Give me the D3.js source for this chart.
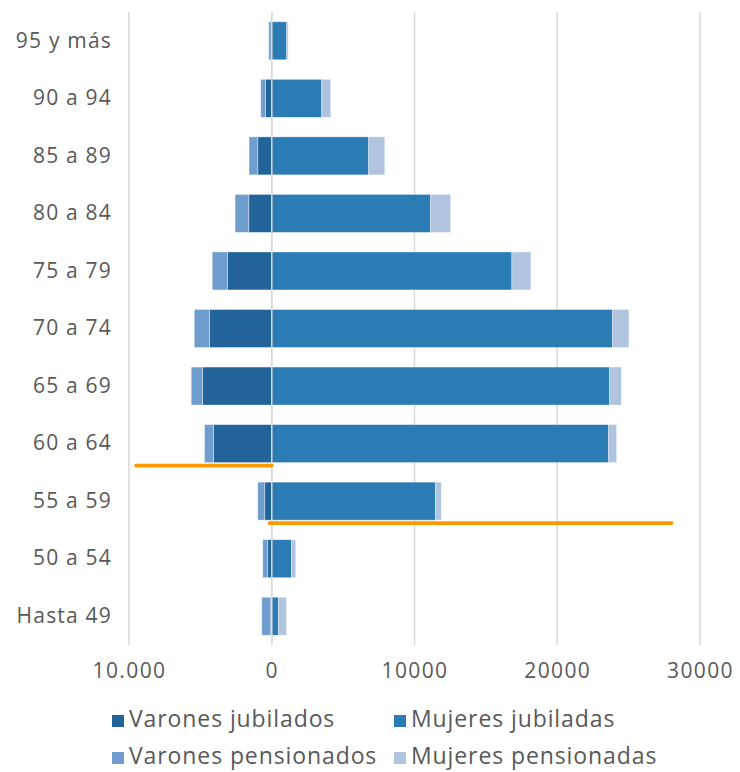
<!DOCTYPE html>
<html>
<head>
<meta charset="utf-8">
<script src="https://cdn.jsdelivr.net/npm/d3@7"></script>
<style>
  body { margin: 0; background: #fff; }
  text { font-family: "Open Sans", sans-serif; fill: #595959; }
</style>
</head>
<body>
<script>
//age groups, top to bottom
var ageGroups = ["95 y más", "90 a 94", "85 a 89", "80 a 84", "75 a 79", "70 a 74",
                 "65 a 69", "60 a 64", "55 a 59", "50 a 54", "Hasta 49"];

//values (men drawn to the left)
var varonesJubilados   = [50, 440, 980, 1610, 3100, 4360, 4850, 4080, 490, 280, 100];
var varonesPensionados = [160, 330, 610, 960, 1070, 1070, 790, 630, 490, 350, 600];
var mujeresJubiladas   = [1050, 3500, 6790, 11130, 16820, 23880, 23670, 23600, 11460, 1380, 470];
var mujeresPensionadas = [100, 630, 1130, 1400, 1330, 1140, 820, 560, 420, 300, 560];

var xTicks = [-10000, 0, 10000, 20000, 30000];
var xTickLabels = ["10.000", "0", "10000", "20000", "30000"];

var seriesNames = ["Varones jubilados", "Mujeres jubiladas", "Varones pensionados", "Mujeres pensionadas"];
var seriesColors = ["#22649a", "#2b7bb5", "#6f9dcd", "#b0c4e0"];

//orange marker lines under the 60 a 64 and 55 a 59 bars
var markerGroups = ["60 a 64", "55 a 59"];
var markerFrom = [-9500, -150];
var markerTo = [0, 28000];

window.onload = drawChart();

function drawChart() {
    var width = 740,
        height = 772;

    var svg = d3.select("body")
        .append("svg")
        .attr("width", width)
        .attr("height", height);

    var x = d3.scaleLinear()
        .domain([-10000, 30000])
        .range([129, 700]);

    var y = d3.scaleBand()
        .domain(ageGroups)
        .range([12, 645])
        .paddingInner(0.34)
        .paddingOuter(0.17);

    //gridlines
    svg.selectAll(".grid")
        .data(xTicks)
        .enter()
        .append("line")
        .attr("class", "grid")
        .attr("x1", function(d) { return x(d); })
        .attr("x2", function(d) { return x(d); })
        .attr("y1", 12)
        .attr("y2", 645)
        .attr("stroke", "#d9d9d9")
        .attr("stroke-width", 1.5);

    //build segments: [start, end] for every bar piece
    var segs = [];
    ageGroups.forEach(function(g, i) {
        segs.push({g: g, s: 0, x0: -varonesJubilados[i], x1: 0});
        segs.push({g: g, s: 2, x0: -varonesJubilados[i] - varonesPensionados[i], x1: -varonesJubilados[i]});
        segs.push({g: g, s: 1, x0: 0, x1: mujeresJubiladas[i]});
        segs.push({g: g, s: 3, x0: mujeresJubiladas[i], x1: mujeresJubiladas[i] + mujeresPensionadas[i]});
    });

    svg.selectAll(".bar")
        .data(segs)
        .enter()
        .append("rect")
        .attr("class", "bar")
        .attr("x", function(d) { return x(d.x0); })
        .attr("width", function(d) { return x(d.x1) - x(d.x0); })
        .attr("y", function(d) { return y(d.g); })
        .attr("height", y.bandwidth())
        .attr("fill", function(d) { return seriesColors[d.s]; })
        .attr("stroke", "rgba(255,255,255,0.5)")
        .attr("stroke-width", 0.7);

    //zero line on top of the bars
    svg.append("line")
        .attr("x1", x(0)).attr("x2", x(0))
        .attr("y1", 12).attr("y2", 645)
        .attr("stroke", "#d9d9d9")
        .attr("stroke-width", 1.5);

    //orange marker lines
    svg.selectAll(".marker")
        .data(markerGroups)
        .enter()
        .append("line")
        .attr("class", "marker")
        .attr("x1", function(d, i) { return x(markerFrom[i]); })
        .attr("x2", function(d, i) { return x(markerTo[i]); })
        .attr("y1", function(d) { return y(d) + y.bandwidth() + 3; })
        .attr("y2", function(d) { return y(d) + y.bandwidth() + 3; })
        .attr("stroke", "#ff9900")
        .attr("stroke-width", 3.8)
        .attr("stroke-linecap", "round");

    //category labels
    var yAxis = svg.append("g")
        .attr("transform", "translate(112,0)")
        .call(d3.axisLeft(y).tickSize(0).tickPadding(0));
    yAxis.select(".domain").remove();
    yAxis.selectAll("text")
        .style("font-family", "'Open Sans', sans-serif")
        .style("font-size", "21px")
        .style("letter-spacing", "1.2px")
        .attr("fill", "#595959");

    //value axis labels
    var xAxis = svg.append("g")
        .attr("transform", "translate(0,645)")
        .call(d3.axisBottom(x)
            .tickValues(xTicks)
            .tickSize(0)
            .tickPadding(18)
            .tickFormat(function(d, i) { return xTickLabels[i]; }));
    xAxis.select(".domain").remove();
    xAxis.selectAll("text")
        .style("font-family", "'Open Sans', sans-serif")
        .style("font-size", "21px")
        .style("letter-spacing", "1.4px")
        .attr("fill", "#595959");

    //legend
    var legendX = [112, 394],
        legendY = [720, 757];

    var legend = svg.selectAll(".legend")
        .data(seriesNames)
        .enter()
        .append("g")
        .attr("class", "legend")
        .attr("transform", function(d, i) {
            return "translate(" + legendX[i % 2] + "," + legendY[Math.floor(i / 2)] + ")";
        });

    legend.append("rect")
        .attr("x", 0)
        .attr("y", -5)
        .attr("width", 12)
        .attr("height", 12)
        .attr("fill", function(d, i) { return seriesColors[i]; });

    legend.append("text")
        .attr("x", 17)
        .attr("y", 7)
        .style("font-size", "23px")
        .style("letter-spacing", "0.9px")
        .text(function(d) { return d; });
}
</script>
</body>
</html>
